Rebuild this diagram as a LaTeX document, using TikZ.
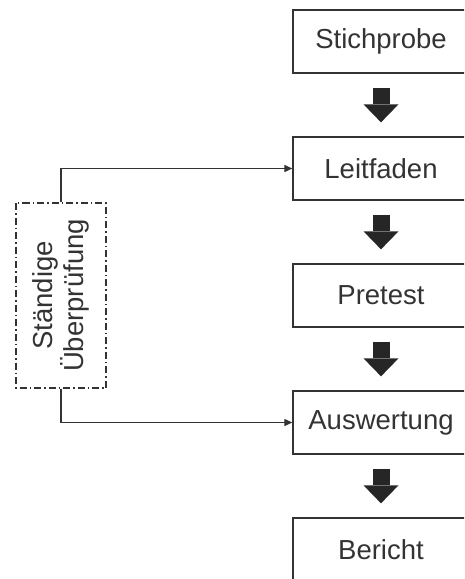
\documentclass[tikz,border=0pt]{standalone}
\usepackage{fontspec}
\setmainfont{Liberation Sans}
\usetikzlibrary{positioning}
\usetikzlibrary{arrows.meta}

\begin{document}
\begin{tikzpicture}[
        stufe/.style={rectangle, draw=black!80, line width=1.3pt, minimum width=176pt, minimum height=63pt, text=black!80, font=\fontsize{27.5}{31}\selectfont},
        pruefbox/.style={rectangle, draw=black!80, line width=1.2pt, dash pattern=on 7pt off 3pt on 1.5pt off 3pt, rotate=90, minimum width=185pt, minimum height=90pt, align=center, text=black!80, font=\fontsize{27.5}{31}\selectfont},
        blockpfeil/.style={draw=black!85, line width=17pt, shorten <=14pt, shorten >=14pt, -{Triangle[length=18pt,width=35pt,line width=0pt]}},
        verbindung/.style={draw=black!80, line width=1.2pt, -{Triangle[length=8pt,width=7pt]}}
    ]
        \clip (0,0) rectangle (464pt,-579pt);
        \node (stichprobe) [stufe] at (381pt,-41.5pt) {Stichprobe};
        \node (leitfaden) [stufe, below=62.7pt of stichprobe] {Leitfaden};
        \node (pretest) [stufe, below=62.7pt of leitfaden] {Pretest};
        \node (auswertung) [stufe, below=62.7pt of pretest] {Auswertung};
        \node (bericht) [stufe, below=62.7pt of auswertung] {Bericht};
        \draw [blockpfeil] (stichprobe) -- (leitfaden);
        \draw [blockpfeil] (leitfaden) -- (pretest);
        \draw [blockpfeil] (pretest) -- (auswertung);
        \draw [blockpfeil] (auswertung) -- (bericht);
        % rotated box: east is the top side, west the bottom side
        \node (pruefung) [pruefbox] at (61pt,-295.5pt) {Ständige\\Überprüfung};
        \draw [verbindung] (pruefung.east) |- (leitfaden.west);
        \draw [verbindung] (pruefung.west) |- (auswertung.west);
    \end{tikzpicture}
\end{document}
